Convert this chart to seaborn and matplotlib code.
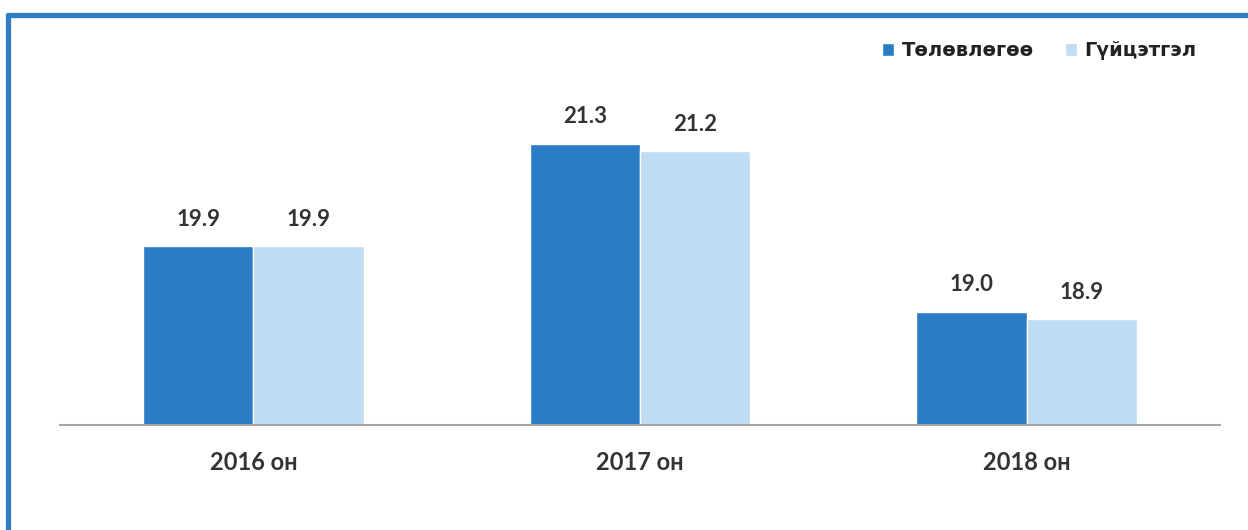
import numpy as np
import pandas as pd
import matplotlib.pyplot as plt
import matplotlib.lines as mlines
import seaborn as sns

years = ["2016 он", "2017 он", "2018 он"]
series = ["Төлөвлөгөө", "Гүйцэтгэл"]
plan = [19.9, 21.3, 19.0]
actual = [19.9, 21.2, 18.9]

colors = ["#2a7cc5", "#bfdcf3"]

df = pd.DataFrame({
    "year": years * 2,
    "series": [series[0]] * 3 + [series[1]] * 3,
    "value": plan + actual,
})

sns.set_style("white")
plt.rcParams["font.family"] = ["Lato", "DejaVu Sans"]

W, H = 1248, 530
fig = plt.figure(figsize=(W / 100, H / 100), dpi=100)
ax = fig.add_axes([60 / W, (H - 425) / H, (1220 - 60) / W, (425 - 50) / H])

sns.barplot(data=df, x="year", y="value", hue="series", palette=colors,
            width=0.57, saturation=1, edgecolor="white", linewidth=1, ax=ax)

ax.set_ylim(17.45, 22.59)
ax.set_xlim(-0.5, 2.5)
for c in ax.containers:
    ax.bar_label(c, fmt="%.1f", padding=12, fontsize=16, fontweight="bold", color="#333333")

sns.despine(ax=ax, left=True, top=True, right=True)
ax.spines["bottom"].set_color("#a6a6a6")
ax.spines["bottom"].set_linewidth(1.5)
ax.set_yticks([])
ax.set_xlabel("")
ax.set_ylabel("")
ax.tick_params(axis="x", length=0, pad=19, labelsize=17, labelcolor="#333333")
for t in ax.get_xticklabels():
    t.set_fontweight("bold")

leg = ax.legend(loc="upper right", bbox_to_anchor=(0.995, 1.07), ncol=2, frameon=False,
                handlelength=0.6, handleheight=0.6, handletextpad=0.4, columnspacing=1.6,
                prop={"family": "DejaVu Sans", "weight": "bold", "size": 14})
for t in leg.get_texts():
    t.set_color("#222222")

# blue frame of the scanned box
fig.add_artist(mlines.Line2D([8 / W, 8 / W], [0, (H - 15) / H], color="#2e7dc6", lw=3.8,
                             transform=fig.transFigure, solid_capstyle="round"))
fig.add_artist(mlines.Line2D([8 / W, 1], [(H - 15) / H, (H - 15) / H], color="#2e7dc6", lw=3.8,
                             transform=fig.transFigure, solid_capstyle="round"))

fig.savefig("out.png", dpi=100)
